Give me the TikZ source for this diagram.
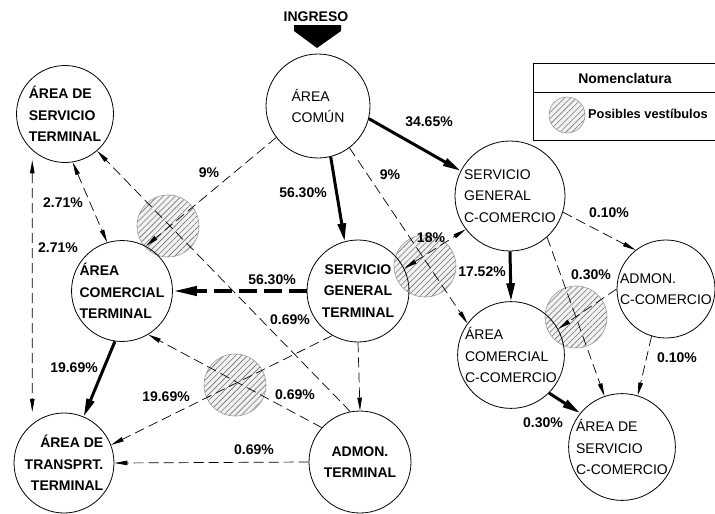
\documentclass[tikz,border=0pt]{standalone}
\usepackage{fontspec}
\setmainfont{Liberation Sans}
\usetikzlibrary{arrows.meta,patterns.meta}

\begin{document}
\begin{tikzpicture}[x=1pt,y=-1pt,
  font=\fontsize{14}{21.5}\selectfont,
  area/.style={circle,draw,line width=0.8pt,minimum size=#1,inner sep=0pt,align=left},
  area/.default=100pt,
  bold/.style={font=\fontsize{14}{21.5}\selectfont\bfseries},
  vest/.style={circle,draw=gray!80,line width=0.6pt,minimum size=#1,inner sep=0pt,
    preaction={fill=gray!10},pattern={Lines[angle=45,distance=4.2pt,line width=0.6pt]},
    pattern color=gray!90!black},
  lbl/.style={font=\fontsize{14}{16}\selectfont\bfseries,inner sep=1pt},
  flow/.style={line width=0.7pt,dash pattern=on 10pt off 5pt,-{Triangle[length=13pt,width=4.5pt]}},
  twoway/.style={{Triangle[length=13pt,width=4.5pt]}-{Triangle[length=13pt,width=4.5pt]}},
  mainflow/.style={line width=3pt,-{Triangle[length=18pt,width=8pt]}},
  mainflowdash/.style={line width=4pt,dash pattern=on 18pt off 7pt,-{Triangle[length=24pt,width=9pt]}}]
\useasboundingbox (0,0) rectangle (715,514);

% vestibulos
\foreach \n/\x/\y in {v1/168/226,v2/425/266,v3/576/317,v4/235/385}
  \node[vest=62pt] (\n) at (\x,\y) {};

% areas
\node[area=97pt,bold] (asterm) at (65,114) {ÁREA DE\\SERVICIO\\TERMINAL};
\node[area=104pt] (acomun) at (318,106) {ÁREA\\COMÚN};
\node[area=110pt] (sgcc) at (510,196) {SERVICIO\\GENERAL\\C-COMERCIO};
\node[area,bold] (act) at (122,291) {ÁREA\\COMERCIAL\\TERMINAL};
\node[area=102pt,bold,align=center] (sgt) at (358,291) {SERVICIO\\GENERAL\\TERMINAL};
\node[area,bold,align=right] (att) at (64,463) {ÁREA DE\\TRANSPRT.\\TERMINAL};
\node[area=102pt,bold,align=center] (admt) at (360,462) {ADMON.\\TERMINAL};
\node[area] (accc) at (511,355) {ÁREA\\COMERCIAL\\C-COMERCIO};
\node[area=98pt] (admcc) at (666,289) {ADMON.\\C-COMERCIO};
\node[area] (ascc) at (622,447) {ÁREA DE\\SERVICIO\\C-COMERCIO};

% ingreso
\node[lbl] (ingreso) at (316,17) {INGRESO};
\fill (294,25) -- (341,25) -- (341,31) -- (317,48) -- (294,31) -- cycle;

% flujos
\draw[mainflow] (acomun.284) -- (sgt.105);
\draw[mainflow] (acomun.346) -- (sgcc.153);
\draw[flow] (acomun.307) -- (accc.144);
\draw[flow] (acomun.217) -- (act.62);
\draw[mainflowdash] (sgt.180) -- (act.0);
\draw[flow,twoway] (sgt.26) -- (sgcc.217);
\draw[mainflow] (sgcc.270) -- (accc.90);
\draw[flow] (sgcc.343) -- (admcc.128);
\draw[flow] (sgcc.312) -- (ascc.109);
\draw[flow] (admcc.180) -- (accc.29);
\draw[flow] (admcc.253) -- (ascc.73);
\draw[mainflow] (accc.315) -- (ascc.141);
\draw[flow,twoway] (asterm.279) -- (act.107);
\draw[flow,twoway,shorten <=10pt,shorten >=12pt] (asterm.228) -- (att.129);
\draw[flow] (admt.101) -- (asterm.311);
\draw[flow] (admt.138) -- (act.301);
\draw[flow] (sgt.240) -- (att.21);
\draw[mainflow] (act.262) -- (att.67);
\draw[flow] (admt.180) -- (att.0);
\draw[flow] (sgt.270) -- (admt.90);

% porcentajes
\foreach \n/\x/\y/\t in {p1/303/193/56.30\%,p2/429/122/34.65\%,p3/390/175/9\%,
    p4/209/173/9\%,p5/431/238/18\%,p6/482/272/17.52\%,p7/609/213/0.10\%,
    p8/591/275/0.30\%,p9/677/358/0.10\%,p10/543/423/0.30\%,p11/63/203/2.71\%,
    p12/58/248/2.71\%,p13/272/280/56.30\%,p14/290/320/0.69\%,p15/74/368/19.69\%,
    p16/166/397/19.69\%,p17/295/395/0.69\%,p18/254/450/0.69\%}
  \node[lbl] (\n) at (\x,\y) {\t};

% nomenclatura
\draw[line width=0.8pt] (533,63) rectangle (722,140);
\draw[line width=0.8pt] (533,92) -- (722,92);
\node[lbl] (nomen) at (625,78) {Nomenclatura};
\node[vest=36pt] (vleg) at (567,115) {};
\node[lbl,anchor=west,font=\fontsize{12.8}{15}\selectfont\bfseries] (vtxt) at (587,114) {Posibles vestíbulos};
\end{tikzpicture}
\end{document}
